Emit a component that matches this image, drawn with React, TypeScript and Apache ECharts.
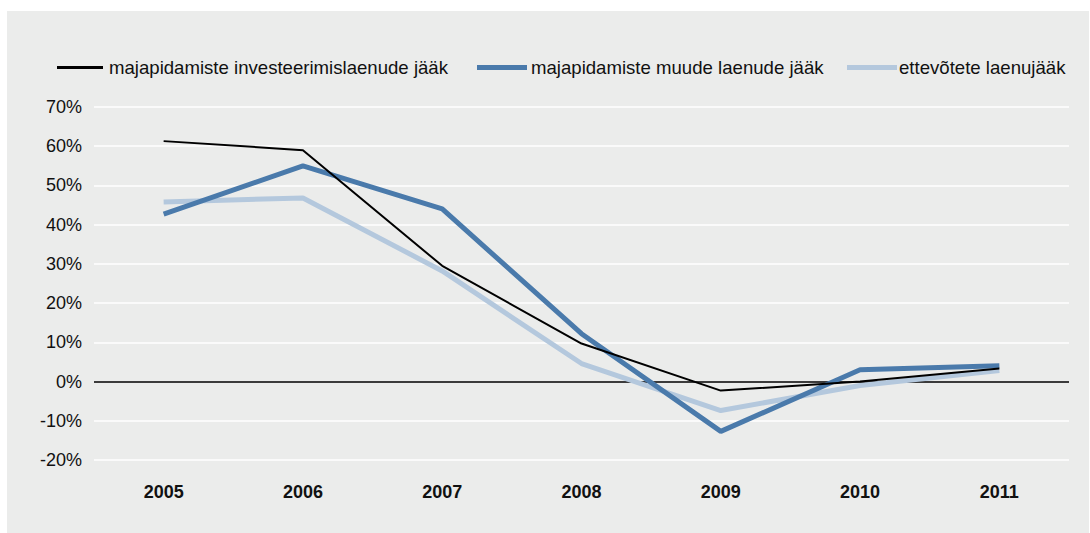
import React, { useEffect, useRef } from "react";
import * as echarts from "echarts";

const years = ["2005", "2006", "2007", "2008", "2009", "2010", "2011"];
const seriesNames = [
  "majapidamiste investeerimislaenude jääk",
  "majapidamiste muude laenude jääk",
  "ettevõtete laenujääk",
];
const investLoans = [61.3, 59.0, 29.5, 9.7, -2.3, 0.0, 3.3];
const otherLoans = [42.7, 55.0, 44.0, 12.2, -12.7, 3.0, 4.0];
const corpLoans = [45.8, 46.8, 28.2, 4.6, -7.4, -1.0, 2.8];

const colors = ["#000000", "#4a7aab", "#b4c8dd"];
const widths = [2, 5, 5];
const FONT = "'Liberation Sans', Arial, Helvetica, sans-serif";

export default function App() {
  const ref = useRef<HTMLDivElement>(null);
  useEffect(() => {
    if (!ref.current) return;
    const chart = echarts.init(ref.current, null, { renderer: "svg" });
    const dataSets = [investLoans, otherLoans, corpLoans];
    const legendLeft = [52, 472, 842];
    const legendTextPad = [1, -1, -3];
    const legendItemWidth = [46, 50, 50];
    chart.setOption({
      animation: false,
      backgroundColor: "#ffffff",
      graphic: [
        {
          type: "rect",
          z: -10,
          silent: true,
          shape: { x: 7, y: 11, width: 1082, height: 522 },
          style: { fill: "#ebeceb" },
        },
      ],
      legend: seriesNames.map((name, i) => ({
        data: [name],
        left: legendLeft[i],
        top: 53,
        icon: "rect",
        itemWidth: legendItemWidth[i],
        itemHeight: widths[i] === 2 ? 3 : 5,
        itemGap: 0,
        selectedMode: false,
        textStyle: {
          fontFamily: FONT,
          fontSize: 18.6,
          color: "#111",
          padding: [0, 0, 0, legendTextPad[i]],
        },
        itemStyle: { color: colors[i] },
      })),
      grid: { left: 94, right: 21, top: 107, bottom: 73, containLabel: false },
      xAxis: {
        type: "category",
        data: years,
        boundaryGap: true,
        axisLine: { show: false },
        axisTick: { show: false },
        axisLabel: {
          margin: 23,
          fontFamily: FONT,
          fontSize: 18,
          fontWeight: "bold",
          color: "#111",
        },
      },
      yAxis: {
        type: "value",
        min: -20,
        max: 70,
        interval: 10,
        axisLine: { show: false },
        axisTick: { show: false },
        axisLabel: {
          margin: 12,
          fontFamily: FONT,
          fontSize: 18,
          color: "#111",
          formatter: "{value}%",
        },
        splitLine: {
          lineStyle: {
            color: ["#ffffff", "#ffffff", "#000000", "#ffffff", "#ffffff", "#ffffff", "#ffffff", "#ffffff", "#ffffff", "#ffffff"],
            width: 1.5,
          },
        },
      },
      series: seriesNames.map((name, i) => ({
        name,
        type: "line",
        data: dataSets[i],
        symbol: "none",
        z: i === 0 ? 4 : 3 - i,
        lineStyle: { color: colors[i], width: widths[i] },
        itemStyle: { color: colors[i] },
      })),
    });
    return () => chart.dispose();
  }, []);
  return (
    <div
      ref={ref}
      style={{ position: "fixed", left: 0, top: 0, width: 1090, height: 533 }}
    />
  );
}
